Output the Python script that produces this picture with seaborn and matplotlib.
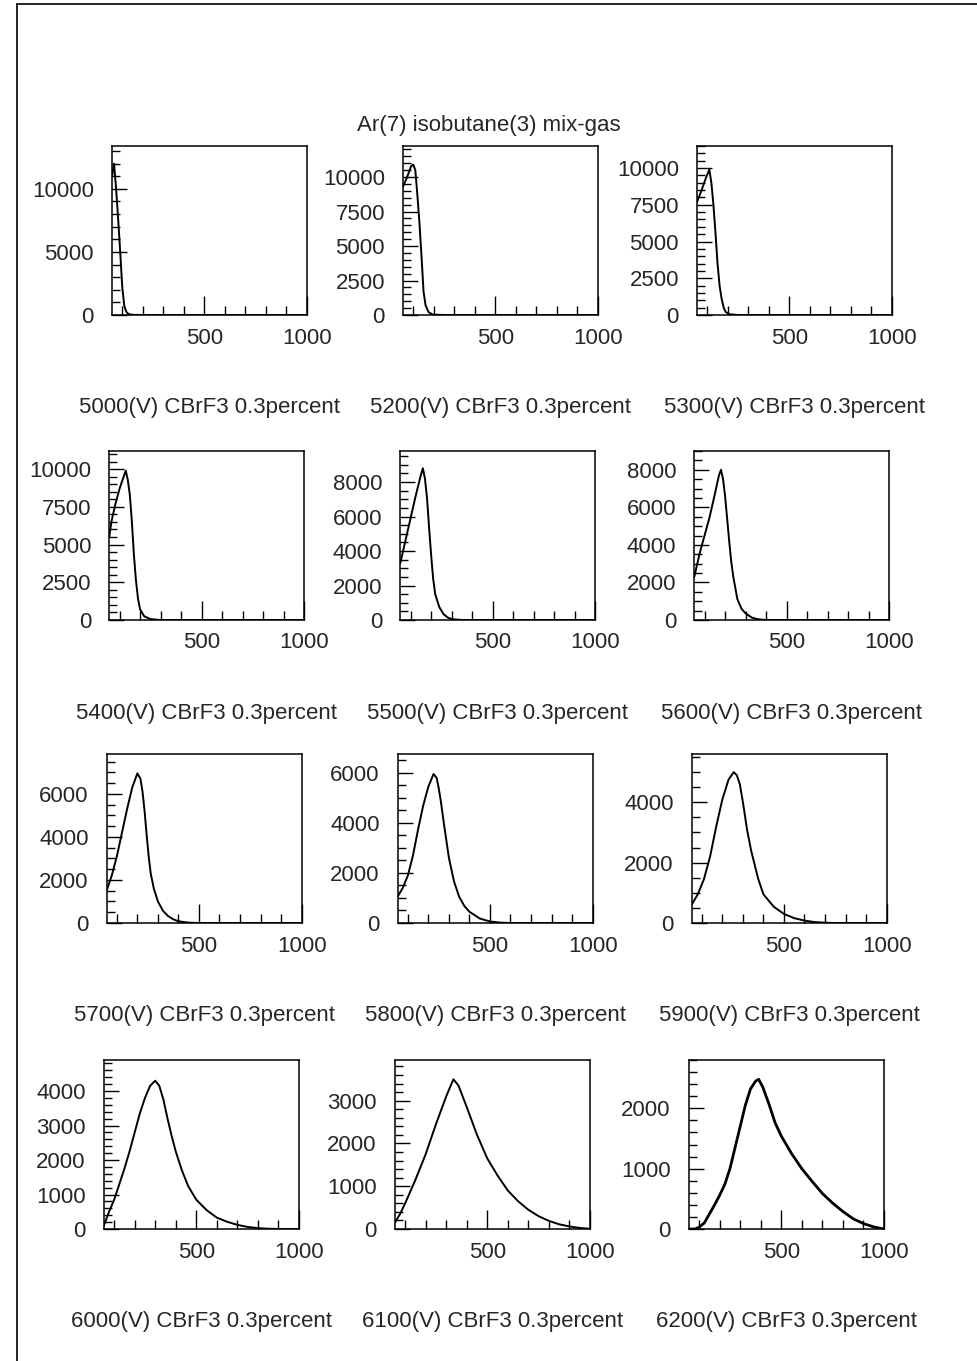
import matplotlib
matplotlib.use("Agg")
import matplotlib.pyplot as plt
from matplotlib.lines import Line2D
from matplotlib.ticker import MultipleLocator, FixedLocator
import seaborn as sns
import pandas as pd

# Pulse-height spectra (ADC channel vs counts) for each anode voltage
voltages = [5000, 5200, 5300, 5400, 5500, 5600, 5700, 5800, 5900, 6000, 6100, 6200]

ch_5000 = [50, 60, 70, 80, 90, 100, 110, 120, 130, 150, 200, 1000]
n_5000 = [11000, 12000, 10000, 7600, 5000, 2200, 700, 250, 80, 15, 0, 0]

ch_5200 = [50, 70, 90, 100, 110, 120, 130, 140, 150, 160, 175, 195, 250, 1000]
n_5200 = [9300, 10000, 10800, 10900, 10500, 8700, 6700, 4300, 1700, 700, 200, 30, 0, 0]

ch_5300 = [50, 70, 90, 110, 120, 130, 140, 150, 160, 170, 180, 190, 210, 250, 1000]
n_5300 = [7700, 8400, 9200, 9900, 9000, 7500, 5600, 3500, 2000, 1100, 500, 200, 50, 0, 0]

ch_5400 = [50, 60, 80, 100, 120, 130, 140, 150, 160, 170, 180, 190, 200, 220, 250, 300, 1000]
n_5400 = [5500, 6500, 7700, 8700, 9500, 9900, 9300, 8300, 6500, 4300, 2600, 1400, 700, 250, 60, 0, 0]

ch_5500 = [50, 75, 100, 125, 150, 160, 170, 180, 190, 200, 210, 220, 240, 260, 280, 300, 350, 1000]
n_5500 = [3300, 4600, 5900, 7200, 8400, 8800, 8200, 7100, 5400, 3800, 2400, 1500, 750, 350, 150, 50, 0, 0]

ch_5600 = [50, 75, 100, 125, 150, 170, 180, 190, 200, 210, 220, 230, 240, 260, 280, 300, 330, 360, 400, 1000]
n_5600 = [2300, 3500, 4500, 5500, 6700, 7700, 8000, 7500, 6600, 5400, 4200, 3100, 2300, 1100, 600, 350, 130, 40, 0, 0]

ch_5700 = [50, 75, 100, 125, 150, 175, 200, 215, 225, 235, 245, 255, 265, 280, 300, 325, 350, 375, 400, 450, 500, 1000]
n_5700 = [1500, 2200, 3100, 4200, 5300, 6300, 6950, 6700, 6100, 5200, 4100, 3100, 2300, 1600, 1000, 560, 320, 170, 80, 15, 0, 0]

ch_5800 = [50, 75, 100, 125, 150, 175, 200, 225, 240, 250, 260, 275, 300, 325, 350, 375, 400, 450, 500, 550, 600, 1000]
n_5800 = [1050, 1400, 1900, 2700, 3750, 4700, 5450, 5950, 5800, 5400, 4900, 4000, 2600, 1650, 1050, 680, 450, 180, 60, 15, 0, 0]

ch_5900 = [50, 80, 110, 140, 170, 200, 230, 255, 270, 285, 300, 320, 340, 375, 400, 450, 500, 550, 600, 650, 700, 750, 1000]
n_5900 = [600, 950, 1450, 2200, 3200, 4100, 4750, 5000, 4900, 4600, 4000, 3100, 2400, 1450, 950, 540, 300, 160, 80, 30, 10, 0, 0]

ch_6000 = [50, 75, 100, 125, 150, 175, 200, 225, 250, 275, 300, 320, 340, 360, 380, 400, 430, 460, 500,
           550, 600, 650, 700, 750, 800, 850, 900, 1000]
n_6000 = [100, 500, 850, 1300, 1750, 2250, 2800, 3350, 3800, 4150, 4300, 4150, 3750, 3200, 2700, 2250, 1700,
          1250, 850, 550, 330, 210, 120, 60, 25, 8, 0, 0]

ch_6100 = [50, 75, 100, 150, 200, 250, 300, 335, 360, 400, 450, 500, 550, 600, 650, 700, 750, 800, 850, 900,
           950, 1000]
n_6100 = [150, 350, 600, 1150, 1750, 2450, 3100, 3500, 3350, 2850, 2200, 1650, 1250, 900, 650, 450, 300, 190,
          110, 60, 25, 5]

ch_6200 = [50, 80, 100, 125, 150, 175, 200, 225, 250, 275, 300, 325, 350, 375, 390, 410, 440, 470, 500, 550,
           600, 650, 700, 750, 800, 850, 900, 950, 1000]
n_6200 = [0, 0, 30, 100, 250, 400, 560, 740, 1000, 1350, 1700, 2050, 2320, 2450, 2480, 2350, 2070, 1760, 1540,
          1250, 1000, 790, 590, 430, 290, 170, 90, 35, 0]

channels = [ch_5000, ch_5200, ch_5300, ch_5400, ch_5500, ch_5600,
            ch_5700, ch_5800, ch_5900, ch_6000, ch_6100, ch_6200]
counts = [n_5000, n_5200, n_5300, n_5400, n_5500, n_5600,
          n_5700, n_5800, n_5900, n_6000, n_6100, n_6200]

# y-axis range and tick steps (major, minor) for each panel
y_top = [13400, 12250, 11500, 11200, 9800, 9000, 7850, 6750, 5600, 4900, 3950, 2800]
y_major = [5000, 2500, 2500, 2500, 2000, 2000, 2000, 2000, 2000, 1000, 1000, 1000]
y_minor = [1000, 500, 500, 500, 500, 500, 500, 500, 500, 200, 200, 200]

x_range = (50, 1000)
x_labels = [500, 1000]
title = "Ar(7) isobutane(3) mix-gas"
caption_fmt = "{}(V) CBrF3 0.3percent"

sns.set_theme(style="white")
plt.rcParams["font.family"] = ["Liberation Sans", "DejaVu Sans"]
plt.rcParams["axes.edgecolor"] = "black"
plt.rcParams["axes.linewidth"] = 1.1

W, H = 978, 1361
fig = plt.figure(figsize=(W / 100, H / 100), dpi=100)
fig.patch.set_facecolor("white")

# page frame (left and top edges)
fig.add_artist(Line2D([17 / W, 17 / W], [0, 1 - 4 / H], color="black", lw=1.2))
fig.add_artist(Line2D([17 / W, 1], [1 - 4 / H, 1 - 4 / H], color="black", lw=1.2))

fig.text(489 / W, 1 - 125 / H, title, ha="center", va="center", fontsize=16)

col_left = [112, 403, 697]
row_top = [146, 451, 754, 1060]
ax_w, ax_h = 195, 169

for i, volt in enumerate(voltages):
    r, c = divmod(i, 3)
    left = col_left[c] - 2.7 * r
    top = row_top[r]
    ax = fig.add_axes([left / W, 1 - (top + ax_h) / H, ax_w / W, ax_h / H])
    df = pd.DataFrame({"channel": channels[i], "counts": counts[i]})
    lw = 2.0 if volt == 6200 else 1.4
    sns.lineplot(data=df, x="channel", y="counts", ax=ax, color="black",
                 linewidth=lw, legend=False)
    ax.set_xlim(*x_range)
    ax.set_ylim(0, y_top[i])
    ax.set_xlabel("")
    ax.set_ylabel("")
    ax.xaxis.set_major_locator(FixedLocator(x_labels))
    ax.xaxis.set_minor_locator(FixedLocator(list(range(100, 1000, 100))))
    ax.yaxis.set_major_locator(MultipleLocator(y_major[i]))
    ax.yaxis.set_minor_locator(MultipleLocator(y_minor[i]))
    ax.tick_params(axis="x", which="major", direction="in", length=14, width=1.0,
                   labelsize=16, pad=9, bottom=True, top=False, color="black")
    ax.tick_params(axis="x", which="minor", direction="in", length=6.5, width=1.0,
                   bottom=True, top=False, color="black")
    ax.tick_params(axis="y", which="major", direction="in", length=11, width=1.0,
                   labelsize=16, pad=13, left=True, right=False, color="black")
    ax.tick_params(axis="y", which="minor", direction="in", length=5.5, width=1.0,
                   left=True, right=False, color="black")
    ax.set_xticklabels([str(v) for v in x_labels])
    for sp in ax.spines.values():
        sp.set_visible(True)
        sp.set_color("black")
        sp.set_linewidth(1.1)
    ax.set_facecolor("white")
    fig.text((left + ax_w / 2) / W, 1 - (top + ax_h + 93) / H, caption_fmt.format(volt),
             ha="center", va="center", fontsize=16)

fig.savefig("out.png", dpi=100, facecolor="white")
